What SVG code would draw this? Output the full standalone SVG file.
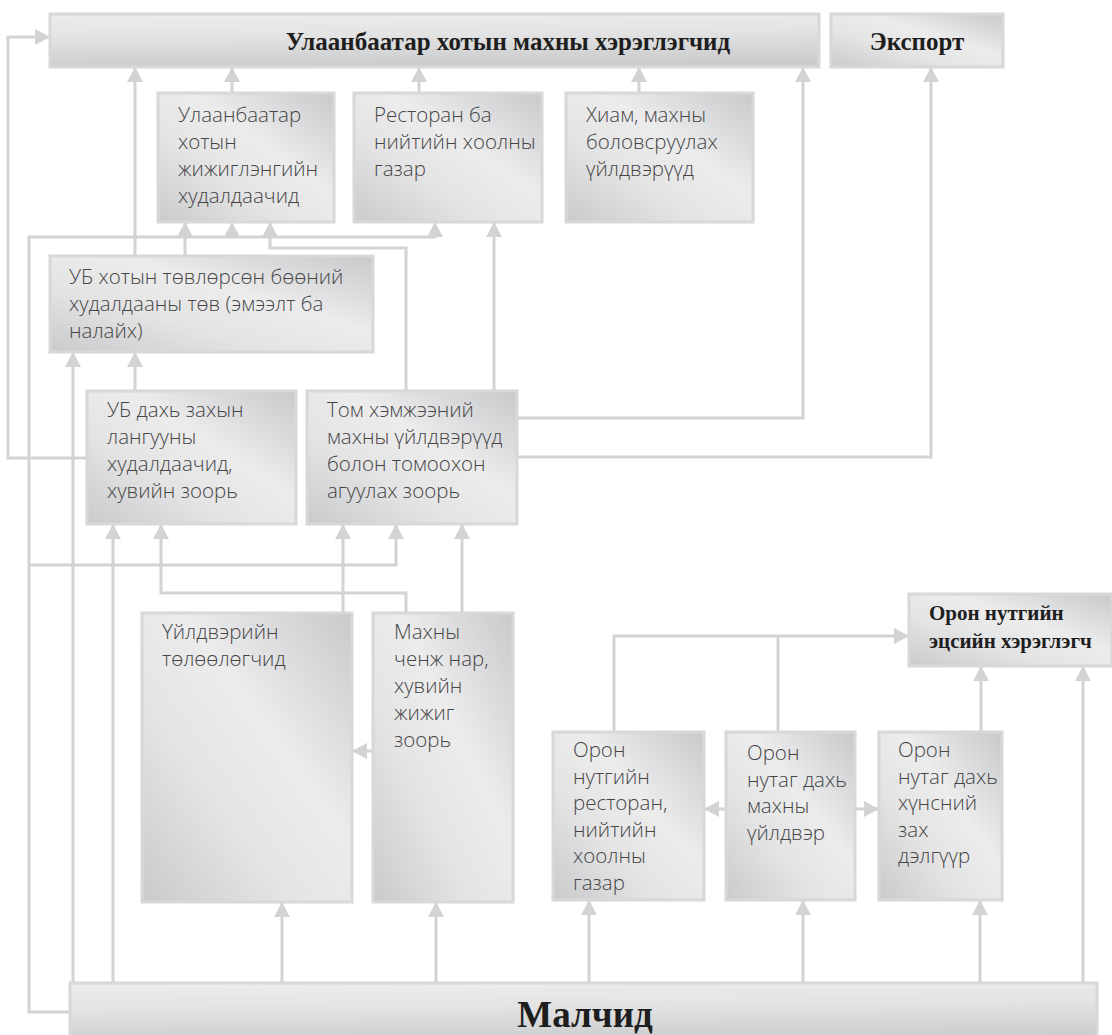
<svg xmlns="http://www.w3.org/2000/svg" width="1112" height="1035" viewBox="0 0 1112 1035">
  <defs>
    <linearGradient id="metal" x1="0" y1="1" x2="1" y2="0">
      <stop offset="0" stop-color="#c9cacc"/>
      <stop offset="0.35" stop-color="#e4e4e5"/>
      <stop offset="0.6" stop-color="#ececed"/>
      <stop offset="1" stop-color="#c8c9cb"/>
    </linearGradient>
    <linearGradient id="band" x1="0" y1="0" x2="0.15" y2="1">
      <stop offset="0" stop-color="#ededee"/>
      <stop offset="0.45" stop-color="#e3e3e4"/>
      <stop offset="1" stop-color="#cbcccd"/>
    </linearGradient>
    <marker id="arrow" markerUnits="userSpaceOnUse" markerWidth="20" markerHeight="20" viewBox="0 0 20 20" refX="17" refY="10" orient="auto">
      <path d="M2,2 L17,10 L2,18 Z" fill="#d3d3d3"/>
    </marker>
  </defs>
  <style>
    .box { fill: url(#metal); stroke: #d8d8d8; stroke-width: 3; }
    .wide { fill: url(#band); stroke: #d8d8d8; stroke-width: 3; }
    .lbl { font-family: "Open Sans", "Noto Sans", "DejaVu Sans", sans-serif; font-weight: 300; font-size: 20.5px; fill: #454545; }
    .head { font-family: "Liberation Serif", "Times New Roman", serif; font-weight: bold; fill: #1e1e1e; }
    .conn path { fill: none; stroke: #d3d3d3; stroke-width: 3; }
    .conn path.a { marker-end: url(#arrow); }
  </style>

  <rect width="1112" height="1035" fill="#ffffff"/>

  <!-- connectors -->
  <g id="connectors" class="conn">
    <!-- into the city consumers -->
    <path class="a" d="M87,458 H8 V37 H50"/>
    <path class="a" d="M135,256 V67"/>
    <path class="a" d="M232,93 V67"/>
    <path class="a" d="M419,93 V67"/>
    <path class="a" d="M639,93 V67"/>
    <path class="a" d="M517,418 H803 V67"/>
    <path class="a" d="M517,457 H931 V67"/>
    <!-- into retailers / restaurants -->
    <path class="a" d="M185,256 V222"/>
    <path class="a" d="M72,1012 H29 V237 H435 V222"/>
    <path class="a" d="M232,237 V222"/>
    <path class="a" d="M406,391 V248 H270 V222"/>
    <path class="a" d="M494,391 V222"/>
    <!-- into the wholesale centre -->
    <path class="a" d="M73,983 V352"/>
    <path class="a" d="M135,391 V352"/>
    <!-- into market traders and big plants -->
    <path class="a" d="M113,983 V524"/>
    <path class="a" d="M406,613 V593 H161 V524"/>
    <path class="a" d="M29,565 H396 V524"/>
    <path class="a" d="M343,613 V524"/>
    <path class="a" d="M462,613 V524"/>
    <!-- intermediaries -->
    <path class="a" d="M373,751 H352"/>
    <path class="a" d="M282,983 V902"/>
    <path class="a" d="M436,983 V902"/>
    <!-- local chain -->
    <path class="a" d="M614,732 V636 H909"/>
    <path d="M778,732 V636"/>
    <path class="a" d="M981,732 V666"/>
    <path class="a" d="M1083,983 V666"/>
    <path class="a" d="M726,809 H704"/>
    <path class="a" d="M855,809 H879"/>
    <path class="a" d="M589,983 V900"/>
    <path class="a" d="M803,983 V900"/>
    <path class="a" d="M980,983 V900"/>
  </g>

  <!-- nodes -->
  <g id="ub-consumers">
    <rect class="wide" x="50" y="14" width="769" height="53"/>
    <text class="head" x="508" y="50" font-size="25" text-anchor="middle">Улаанбаатар хотын махны хэрэглэгчид</text>
  </g>
  <g id="export">
    <rect class="box" x="831" y="14" width="172" height="53"/>
    <text class="head" x="917" y="50" font-size="25" text-anchor="middle">Экспорт</text>
  </g>
  <g id="ub-retailers">
    <rect class="box" x="158" y="93" width="176" height="129"/>
    <text class="lbl" x="178" y="122">Улаанбаатар</text>
    <text class="lbl" x="178" y="149">хотын</text>
    <text class="lbl" x="178" y="176">жижиглэнгийн</text>
    <text class="lbl" x="178" y="203">худалдаачид</text>
  </g>
  <g id="restaurants">
    <rect class="box" x="354" y="93" width="188" height="129"/>
    <text class="lbl" x="374" y="122">Ресторан ба</text>
    <text class="lbl" x="374" y="149">нийтийн хоолны</text>
    <text class="lbl" x="374" y="176">газар</text>
  </g>
  <g id="processors">
    <rect class="box" x="566" y="93" width="187" height="129"/>
    <text class="lbl" x="586" y="122">Хиам, махны</text>
    <text class="lbl" x="586" y="149">боловсруулах</text>
    <text class="lbl" x="586" y="176">үйлдвэрүүд</text>
  </g>
  <g id="wholesale-centre">
    <rect class="box" x="50" y="256" width="323" height="96"/>
    <text class="lbl" x="69" y="284">УБ хотын төвлөрсөн бөөний</text>
    <text class="lbl" x="69" y="311">худалдааны төв (эмээлт ба</text>
    <text class="lbl" x="69" y="338">налайх)</text>
  </g>
  <g id="market-traders">
    <rect class="box" x="87" y="391" width="209" height="133"/>
    <text class="lbl" x="107" y="417">УБ дахь захын</text>
    <text class="lbl" x="107" y="444">лангууны</text>
    <text class="lbl" x="107" y="471">худалдаачид,</text>
    <text class="lbl" x="107" y="498">хувийн зоорь</text>
  </g>
  <g id="large-plants">
    <rect class="box" x="307" y="391" width="210" height="133"/>
    <text class="lbl" x="327" y="417">Том хэмжээний</text>
    <text class="lbl" x="327" y="444">махны үйлдвэрүүд</text>
    <text class="lbl" x="327" y="471">болон томоохон</text>
    <text class="lbl" x="327" y="498">агуулах зоорь</text>
  </g>
  <g id="plant-agents">
    <rect class="box" x="142" y="613" width="210" height="289"/>
    <text class="lbl" x="162" y="639">Үйлдвэрийн</text>
    <text class="lbl" x="162" y="666">төлөөлөгчид</text>
  </g>
  <g id="meat-traders">
    <rect class="box" x="373" y="613" width="140" height="289"/>
    <text class="lbl" x="394" y="639">Махны</text>
    <text class="lbl" x="394" y="666">ченж нар,</text>
    <text class="lbl" x="394" y="693">хувийн</text>
    <text class="lbl" x="394" y="720">жижиг</text>
    <text class="lbl" x="394" y="747">зоорь</text>
  </g>
  <g id="local-consumer">
    <rect class="box" x="909" y="594" width="203" height="72"/>
    <text class="head" x="929" y="620" font-size="21">Орон нутгийн</text>
    <text class="head" x="929" y="648" font-size="21">эцсийн хэрэглэгч</text>
  </g>
  <g id="local-restaurants">
    <rect class="box" x="553" y="732" width="151" height="168"/>
    <text class="lbl" x="573" y="757">Орон</text>
    <text class="lbl" x="573" y="784">нутгийн</text>
    <text class="lbl" x="573" y="810">ресторан,</text>
    <text class="lbl" x="573" y="837">нийтийн</text>
    <text class="lbl" x="573" y="863">хоолны</text>
    <text class="lbl" x="573" y="890">газар</text>
  </g>
  <g id="local-plant">
    <rect class="box" x="726" y="732" width="129" height="168"/>
    <text class="lbl" x="747" y="760">Орон</text>
    <text class="lbl" x="747" y="787">нутаг дахь</text>
    <text class="lbl" x="747" y="813">махны</text>
    <text class="lbl" x="747" y="840">үйлдвэр</text>
  </g>
  <g id="local-market">
    <rect class="box" x="879" y="732" width="123" height="168"/>
    <text class="lbl" x="898" y="757">Орон</text>
    <text class="lbl" x="898" y="784">нутаг дахь</text>
    <text class="lbl" x="898" y="810">хүнсний</text>
    <text class="lbl" x="898" y="837">зах</text>
    <text class="lbl" x="898" y="863">дэлгүүр</text>
  </g>
  <g id="herders">
    <rect class="wide" x="70" y="983" width="1027" height="60"/>
    <text class="head" x="585" y="1027" font-size="37" text-anchor="middle">Малчид</text>
  </g>
</svg>
